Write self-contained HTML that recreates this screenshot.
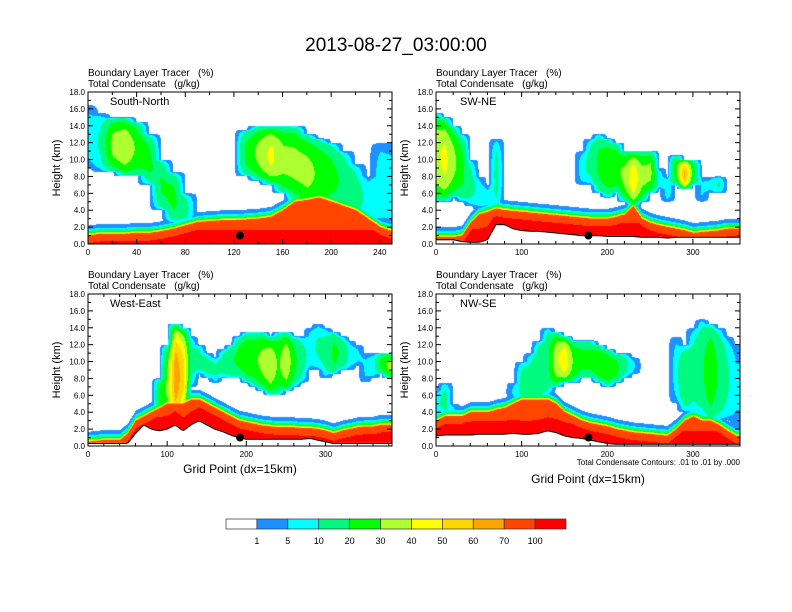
<!DOCTYPE html>
<html><head><meta charset="utf-8">
<style>
body{margin:0;background:#fff;}
#root{position:relative;width:792px;height:612px;overflow:hidden;font-family:"Liberation Sans",sans-serif;background:#fff;}
canvas{position:absolute;}
svg{position:absolute;left:0;top:0;}
text{white-space:pre;}
</style></head>
<body>
<div id="root">
<canvas id="c0"></canvas>
<canvas id="c1"></canvas>
<canvas id="c2"></canvas>
<canvas id="c3"></canvas>
<svg id="ov" width="792" height="612"></svg>
</div>
<script>
// ---- data ----
const levels=[1,5,10,20,30,40,50,60,70,100];
const colorList=["#ffffff","#1e90ff","#00ffff","#00fa80","#00ff00","#adff2f","#ffff00","#ffd700","#ffa500","#ff4500","#ff0000"];
const levelLabels=["1","5","10","20","30","40","50","60","70","100"];
const yTicks=[0,2,4,6,8,10,12,14,16,18];

// panel 1 South-North (x step 10)
const p1Terrain=[0,0,0,0,0,0,0,0,0,0,0,0,0,0,0,0,0,0,0,0,0,0,0,0,0,0];
const p1BL=[1.0,1.2,1.2,1.2,1.3,1.3,1.5,1.8,2.2,2.6,2.7,2.8,2.8,2.9,3.0,3.2,4.0,5.0,5.2,5.5,5.0,4.5,4.0,3.0,2.0,1.5];
const p1CBase=[9,8.5,8.5,8,8,7,4,2.5,2.5,0,0,0,0,8,7.5,7,6,5,4,4,4,3,2.5,2.5,2,1.5];
const p1CTop=[16.5,15.5,15,15,14.5,13,10,8.5,6,0,0,0,0,13.5,14,14,14,14,13,12.5,12,11,9.5,8,12,12];
const p1CPeak=[4,8,30,35,25,20,18,20,10,0,0,0,0,20,30,40,30,30,30,25,20,15,10,5,5,4];
// panel 2 SW-NE
const p2Terrain=[0.5,0.5,0.5,0.3,0.2,0.2,0.5,2.3,2.3,1.8,1.6,1.5,1.5,1.4,1.3,1.2,1.1,1.0,1.0,1.0,0.9,0.9,0.9,0.9,0.8,0.8,0.8,0.7,0.8,0.8,0.8,0.8,0.8,0.8,0.8,0.8];
const p2BL=[0.8,0.8,0.8,1.0,2.5,3.5,3.8,4.2,4.0,3.9,3.8,3.7,3.6,3.5,3.4,3.3,3.2,3.1,3.0,3.0,3.0,3.2,3.5,4.5,3.0,2.5,2.2,2.0,1.8,1.6,1.3,1.4,1.5,1.6,1.8,1.8];
const p2CBase=[5,5,5.5,5,4.5,4,4,4,0,0,0,0,0,0,0,0,0,7,7,6,5.5,6,5,4.5,5,6,6.5,5,7,6.5,7,5,6,6,0,0];
const p2CTop=[15.5,15,14,13,10,8,7,12.5,0,0,0,0,0,0,0,0,0,11,12.5,13,12.5,12,11,11,11,11,9,8,10.5,10,10,8,8,8,0,0];
const p2CPeak=[35,40,30,20,10,5,3,10,0,0,0,0,0,0,0,0,0,5,10,20,25,25,30,45,30,30,5,5,25,60,20,3,3,8,0,0];
// panel 3 West-East
const p3Terrain=[0.3,0.3,0.3,0.3,0.3,0.3,1.5,2.5,2.0,1.8,2.0,2.5,1.8,2.5,3.0,2.5,2.0,1.7,1.3,1.0,0.8,0.8,0.8,0.8,0.8,0.8,0.8,0.8,0.9,0.7,0.5,0.3,0.3,0.3,0.3,0.3,0.3,0.3,0.3];
const p3BL=[0.5,0.6,0.7,0.7,0.7,1.5,3.0,3.5,4.0,4.5,5.0,5.0,5.0,5.5,5.5,5.0,4.5,4.0,3.5,3.0,2.8,2.6,2.4,2.3,2.2,2.2,2.2,2.1,2.1,2.0,1.8,1.5,1.8,2.0,2.2,2.3,2.3,2.5,2.5];
const p3CBase=[0,0,0,0,0,0,0,0,0,4,3,2,3,7,8.5,8,7.5,8,8,8,7.5,7,6.5,6,6,6.5,7,7.5,9,9,8,8.5,9,9,9.5,7.5,8,8.5,8];
const p3CTop=[0,0,0,0,0,0,0,0,0,8,12,14.5,14,13,12,11,10.5,11.5,12,13,13.5,13.5,13.5,13,13.5,13.5,13,13,14,14.5,14,13.5,13,12.5,12,11,11,11,11];
const p3CPeak=[0,0,0,0,0,0,0,0,0,20,30,65,50,10,10,10,8,10,15,20,25,25,30,35,25,35,20,10,5,8,10,20,15,5,3,3,5,20,30];
// panel 4 NW-SE
const p4Terrain=[1.2,1.3,1.3,1.3,1.3,1.4,1.4,1.4,1.4,1.5,1.4,1.4,1.5,1.8,1.6,1.2,1.0,0.9,0.7,0.5,0.3,0.2,0.2,0.2,0.2,0.2,0.2,0.2,0.2,0.2,0.2,0.2,0.2,0.2,0.2,0.2];
const p4BL=[3.0,3.5,3.5,3.5,4.0,4.0,4.0,4.3,4.5,5.0,5.5,5.5,5.5,5.5,5.0,4.0,3.5,3.0,2.7,2.5,2.3,2.0,1.8,1.6,1.5,1.4,1.3,1.2,2.0,3.0,3.5,3.0,3.0,2.5,1.8,1.2];
const p4CBase=[3.5,3.5,3,0,0,0,0,0,0,5.5,5,5,5,6,7,7.5,7.5,8,8,7.5,7,7.5,8,8.5,0,0,0,0,5,4,3.5,3.5,3,3,3,2];
const p4CTop=[6.5,7.5,5,0,0,0,0,0,0,7.5,10,11,12.5,14,13.5,13,12.5,12.5,12.5,12,11.5,11,11,10.5,0,0,0,0,13,12,14,15,14.5,14,13,12];
const p4CPeak=[5,10,3,0,0,0,0,0,0,3,10,10,15,15,35,45,25,20,20,25,25,20,10,3,0,0,0,0,5,15,10,15,25,15,8,3];

const panels=[
 {name:"South-North",left:88,top:92,xMax:250,xTicks:[0,40,80,120,160,200,240],minor:20,terr:p1Terrain,bl:p1BL,cb:p1CBase,ct:p1CTop,cp:p1CPeak,dot:125,slug:"south-north"},
 {name:"SW-NE",left:436,top:92,xMax:355,xTicks:[0,100,200,300],minor:20,terr:p2Terrain,bl:p2BL,cb:p2CBase,ct:p2CTop,cp:p2CPeak,dot:178,slug:"sw-ne"},
 {name:"West-East",left:88,top:294,xMax:384,xTicks:[0,100,200,300],minor:20,terr:p3Terrain,bl:p3BL,cb:p3CBase,ct:p3CTop,cp:p3CPeak,dot:192,slug:"west-east"},
 {name:"NW-SE",left:436,top:294,xMax:355,xTicks:[0,100,200,300],minor:20,terr:p4Terrain,bl:p4BL,cb:p4CBase,ct:p4CTop,cp:p4CPeak,dot:178,slug:"nw-se"}
];
const PW=304,PH=152,STEP=10;

function colorFor(v){let i=0;while(i<levels.length&&v>=levels[i])i++;return colorList[i];}
function interp(arr,x){const f=x/STEP;let i=Math.floor(f);if(i<0)return arr[0];if(i>=arr.length-1)return arr[arr.length-1];const t=f-i;return arr[i]*(1-t)+arr[i+1]*t;}
function sampleCloud(p,x){
 const f=x/STEP;let i=Math.round(f);i=Math.max(0,Math.min(p.cb.length-1,i));
 const j=f<i?i-1:i+1;const jj=Math.max(0,Math.min(p.cb.length-1,j));const t=Math.abs(f-i);
 const A={b:p.cb[i],t:p.ct[i],k:p.cp[i]},B={b:p.cb[jj],t:p.ct[jj],k:p.cp[jj]};
 return [A,B,t];
}
function cloudVal(c,h){if(c.k<=0||c.t<=c.b)return 0;const mid=(c.b+c.t)/2,half=(c.t-c.b)/2;const s=1-Math.pow((h-mid)/half,2);if(s<=0)return 0;return (c.k+3)*Math.sqrt(s);}

panels.forEach((p,pi)=>{
 const cv=document.getElementById('c'+pi);cv.width=PW;cv.height=PH;cv.style.left=p.left+'px';cv.style.top=p.top+'px';
 const ctx=cv.getContext('2d');const img=ctx.createImageData(PW,PH);
 const cache={};
 for(let px=0;px<PW;px++){
  const x=px/PW*p.xMax;const terr=interp(p.terr,x),bl=interp(p.bl,x);
  const [A,B,t]=sampleCloud(p,x);
  for(let py=0;py<PH;py++){
   const h=(PH-py-0.5)/PH*18;let v=0;
   if(h<terr)v=0;else{
    const d=bl-h;
    if(d>=0)v=((d>0.9&&h-terr<1.6)?100:75);else v=69*Math.exp(d/0.28);
    const cvv=cloudVal(A,h)*(1-t)+cloudVal(B,h)*t;
    if(cvv>v)v=cvv;
   }
   const col=colorFor(v);if(!cache[col])cache[col]=[parseInt(col.substr(1,2),16),parseInt(col.substr(3,2),16),parseInt(col.substr(5,2),16)];
   const c=cache[col];const k=(py*PW+px)*4;img.data[k]=c[0];img.data[k+1]=c[1];img.data[k+2]=c[2];img.data[k+3]=255;
  }
 }
 ctx.putImageData(img,0,0);
});

const NS="http://www.w3.org/2000/svg";const ov=document.getElementById('ov');
function mk(tag,attrs,parent){const e=document.createElementNS(NS,tag);for(const k in attrs)e.setAttribute(k,attrs[k]);(parent||ov).appendChild(e);return e;}
function txt(s,attrs,parent){const e=mk('text',attrs,parent);e.textContent=s;return e;}

const title=txt("2013-08-27_03:00:00",{x:396,y:51,'font-size':19,'text-anchor':'middle',fill:'#000'});



panels.forEach((p,pi)=>{
 const g=mk('g',{});
 
 
 const xs=x=>p.left+x/p.xMax*PW, ys=h=>p.top+PH-h/18*PH;
 let d="";for(let px=0;px<=PW;px+=2){const x=px/PW*p.xMax;d+=(px?"L":"M")+(p.left+px)+","+ys(interp(p.terr,x)).toFixed(1);}
 const tl=mk('path',{d:d,fill:'none',stroke:'#000','stroke-width':1},g);
 
 
 const dot=mk('circle',{cx:xs(p.dot),cy:ys(1.0),r:4,fill:'#000'},g);
 
 
 const fr=mk('rect',{x:p.left,y:p.top,width:PW,height:PH,fill:'none',stroke:'#000','stroke-width':1},g);
 
 
 const l1=txt("Boundary Layer Tracer   (%)",{x:p.left,y:p.top-16,'font-size':10,fill:'#000'},g);
 
 
 const l2=txt("Total Condensate   (g/kg)",{x:p.left,y:p.top-5,'font-size':10,fill:'#000'},g);
 
 
 const pn=txt(p.name,{x:p.left+(pi==1||pi==3?24:22),y:p.top+13,'font-size':11,fill:'#000'},g);
 
 
 const yt=txt("Height (km)",{x:0,y:0,'font-size':11,'text-anchor':'middle',transform:`translate(${p.left-28},${p.top+PH/2}) rotate(-90)`},g);
 
 
 yTicks.forEach(v=>{const y=ys(v);
  mk('line',{x1:p.left,x2:p.left+5,y1:y,y2:y,stroke:'#000'},g);
  mk('line',{x1:p.left+PW,x2:p.left+PW-5,y1:y,y2:y,stroke:'#000'},g);
  const tt=txt(v.toFixed(1),{x:p.left-3,y:y+3,'font-size':8,'text-anchor':'end'},g);
  
  
  if(v<18){const y2=ys(v+1);mk('line',{x1:p.left,x2:p.left+3,y1:y2,y2:y2,stroke:'#000'},g);mk('line',{x1:p.left+PW,x2:p.left+PW-3,y1:y2,y2:y2,stroke:'#000'},g);}
 });
 for(let v=0;v<=p.xMax;v+=p.minor){const x=xs(v);const maj=p.xTicks.includes(v);const L=maj?5:3;
  mk('line',{x1:x,x2:x,y1:p.top+PH,y2:p.top+PH-L,stroke:'#000'},g);mk('line',{x1:x,x2:x,y1:p.top,y2:p.top+L,stroke:'#000'},g);}
 p.xTicks.forEach(v=>{const tt=txt(String(v),{x:xs(v),y:p.top+PH+11,'font-size':8,'text-anchor':'middle'},g);
  
  });
});
const xt1=txt("Grid Point (dx=15km)",{x:240,y:473,'font-size':12,'text-anchor':'middle'});


const xt2=txt("Grid Point (dx=15km)",{x:588,y:483,'font-size':12,'text-anchor':'middle'});


const fn=txt("Total Condensate Contours: .01 to .01 by .000",{x:740,y:465,'font-size':8,'text-anchor':'end'});



const cb=mk('g',{});


const cbx=226,cbw=340/colorList.length;
colorList.forEach((c,i)=>{const r=mk('rect',{x:cbx+i*cbw,y:519,width:cbw,height:10,fill:c,stroke:'#333','stroke-width':0.7},cb);
 
 });
levelLabels.forEach((s,i)=>{const t=txt(s,{x:cbx+(i+1)*cbw,y:544,'font-size':9,'text-anchor':'middle'},cb);
 
 });
</script>
</body></html>
